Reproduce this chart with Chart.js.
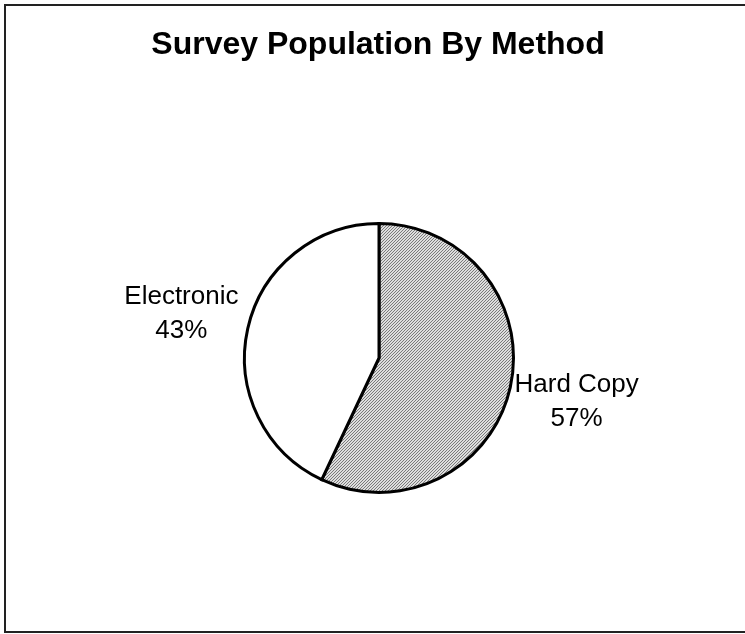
<!DOCTYPE html>
<html>
<head>
<meta charset="utf-8">
<title>Survey Population By Method</title>
<script src="https://cdn.jsdelivr.net/npm/chart.js@4.4.1/dist/chart.umd.min.js"></script>
<style>
    html, body { margin: 0; padding: 0; background: #fff; }
    #wrap { width: 745px; height: 634px; }
</style>
</head>
<body>
<div id="wrap"><canvas id="chart" width="745" height="634"></canvas></div>
<script>
// survey split by response method
const methods = ['Hard Copy', 'Electronic'];
const shares = [57, 43];
const chartTitle = 'Survey Population By Method';

const FONT = '"Liberation Sans", Arial, sans-serif';

// fine diagonal hatch for the hard copy slice
const hatch = (() => {
    const c = document.createElement('canvas');
    c.width = 3; c.height = 3;
    const g = c.getContext('2d');
    g.fillStyle = '#dedede';
    g.fillRect(0, 0, 3, 3);
    g.fillStyle = '#7a7a7a';
    for (let i = 0; i < 3; i++) g.fillRect(i, 2 - i, 1, 1);
    return g.createPattern(c, 'repeat');
})();

// open frame on the left, top and bottom, plus the title across the full width
const framePlugin = {
    id: 'frame',
    afterDraw(chart) {
        const ctx = chart.ctx;
        ctx.save();
        ctx.strokeStyle = '#222';
        ctx.lineWidth = 2;
        ctx.beginPath();
        ctx.moveTo(750, 5);
        ctx.lineTo(5, 5);
        ctx.lineTo(5, 632);
        ctx.lineTo(750, 632);
        ctx.stroke();

        ctx.font = 'bold 32px ' + FONT;
        ctx.fillStyle = '#000';
        ctx.textAlign = 'center';
        ctx.textBaseline = 'middle';
        ctx.fillText(chartTitle, 378, 45);
        ctx.restore();
    }
};

// "name / pct%" labels outside each slice
const sliceLabels = {
    id: 'sliceLabels',
    afterDatasetsDraw(chart) {
        const ctx = chart.ctx;
        const meta = chart.getDatasetMeta(0);
        const total = shares.reduce((a, b) => a + b, 0);
        ctx.save();
        ctx.font = '26px ' + FONT;
        ctx.fillStyle = '#000';
        ctx.textAlign = 'center';
        ctx.textBaseline = 'middle';
        meta.data.forEach((arc, i) => {
            const mid = (arc.startAngle + arc.endAngle) / 2;
            const d = arc.outerRadius + 68;
            const x = arc.x + Math.cos(mid) * d;
            const y = arc.y + Math.sin(mid) * d;
            const pct = Math.round(shares[i] / total * 100) + '%';
            ctx.fillText(methods[i], x, y - 17);
            ctx.fillText(pct, x, y + 17);
        });
        ctx.restore();
    }
};

new Chart(document.getElementById('chart'), {
    type: 'pie',
    data: {
        labels: methods,
        datasets: [{
            data: shares,
            backgroundColor: [hatch, '#fff'],
            borderColor: '#000',
            borderWidth: 3,
            borderJoinStyle: 'miter'
        }]
    },
    options: {
        responsive: false,
        animation: false,
        layout: { padding: { left: 243, right: 230, top: 222, bottom: 140 } },
        plugins: {
            legend: { display: false },
            tooltip: { enabled: false },
            title: { display: false }
        }
    },
    plugins: [framePlugin, sliceLabels]
});
</script>
</body>
</html>
